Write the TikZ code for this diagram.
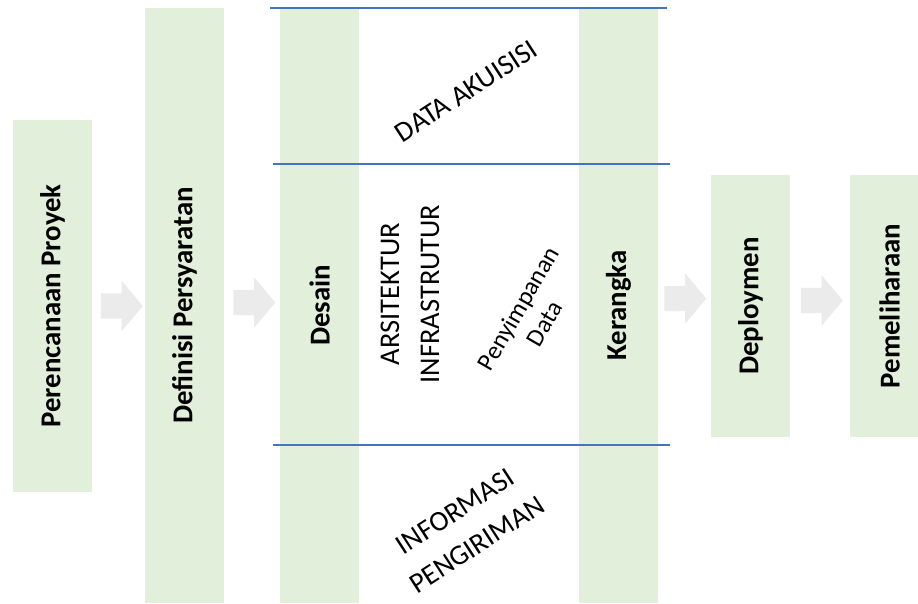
\documentclass[tikz,border=0pt]{standalone}
\usepackage{fontspec}
\setmainfont{Carlito}
\usetikzlibrary{shapes.arrows}
\definecolor{phasegreen}{HTML}{E2EFDA}
\definecolor{flowgray}{HTML}{EBEBEB}
\definecolor{lineblue}{HTML}{4472C4}

\begin{document}
\begin{tikzpicture}[x=1pt,y=-1pt,
	phase/.style={rectangle,fill=phasegreen,rotate=90,inner sep=0pt,minimum height=79pt,
		font=\fontsize{28.8}{34}\selectfont\bfseries},
	flow/.style={single arrow,fill=flowgray,inner xsep=0pt,inner ysep=12.5pt,minimum height=42pt,
		single arrow head extend=12.5pt,single arrow tip angle=100},
	topic/.style={inner sep=0pt,align=center,font=\fontsize{28.5}{40}\selectfont},
	divider/.style={draw=lineblue,line width=1.2pt},]
	\clip (0,0) rectangle (918,603);
	\node [phase,minimum width=372pt] (plan) at (52.5,306) {Perencanaan Proyek};
	\node [phase,minimum width=595pt] (req) at (184.5,305.5) {Definisi Persyaratan};
	\node [phase,minimum width=595pt] (design) at (319.5,305.5) {Desain};
	\node [phase,minimum width=595pt] (frame) at (618.5,305.5) {Kerangka};
	\node [phase,minimum width=262pt] (deploy) at (750.5,306) {Deploymen};
	\node [phase,minimum width=262pt] (maint) at (889.5,306) {Pemeliharaan};

	\node [flow] (a1) at (116.5,306) {};
	\node [flow] (a2) at (249,302.5) {};
	\node [flow] (a3) at (680,298.5) {};
	\node [flow] (a4) at (816.5,300.5) {};

	\draw [divider] (270,8) -- (667,8);
	\draw [divider] (273,164) -- (670,164);
	\draw [divider] (273,445) -- (670,445);

	\node [topic,rotate=33] (acq) at (466,91) {DATA AKUISISI};
	\node [topic,rotate=90] (infra) at (410,294) {ARSITEKTUR\\INFRASTRUTUR};
	\node [topic,rotate=60,font=\fontsize{25}{30}\selectfont] (store) at (531,316) {Penyimpanan\\Data};
	\node [topic,rotate=33] (ship) at (466,528) {INFORMASI\\PENGIRIMAN};
\end{tikzpicture}
\end{document}
